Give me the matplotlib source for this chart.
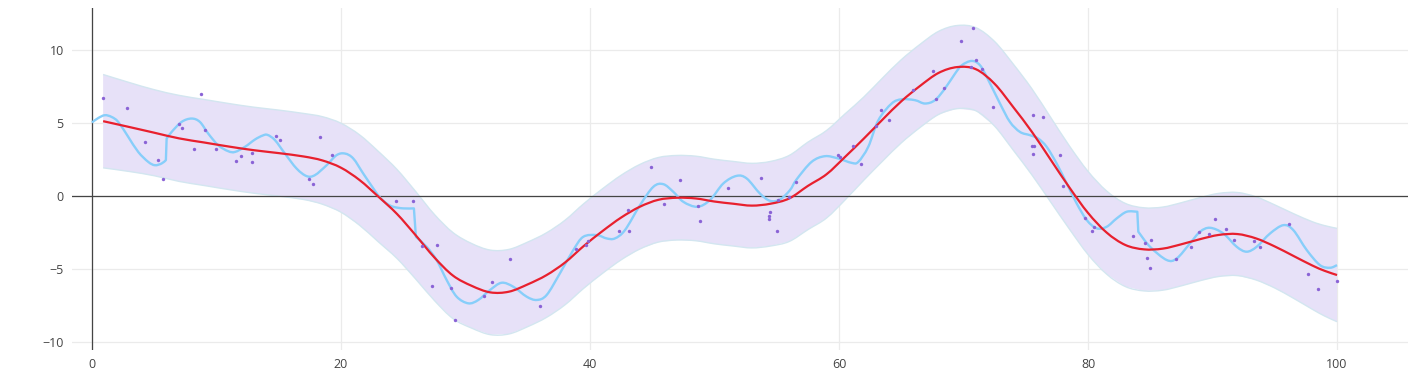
import matplotlib.pyplot as plt
from matplotlib.path import Path
from matplotlib.patches import PathPatch
from matplotlib.ticker import FixedLocator

plt.rcParams['font.family'] = ['Open Sans', 'DejaVu Sans']

# noisy observations
obs_x = [0.91, 2.84, 4.23, 5.33, 5.73, 7.02, 7.23, 8.22, 8.76, 9.1, 9.93, 11.54, 11.97, 12.85, 12.85,
         14.75, 15.13, 17.45, 17.75, 18.34, 19.25,
         24.44, 25.76, 26.53, 27.34, 27.74, 28.84, 29.16, 31.46, 32.15, 33.55, 35.96, 38.85, 39.65, 39.84, 42.33,
         43.08, 43.16, 44.87, 45.97, 47.25, 48.65, 48.86, 51.06, 53.76, 54.38, 54.38, 54.48, 55.04, 55.13, 55.98, 56.57,
         59.94, 60.08, 61.15, 61.8, 62.97, 63.37, 63.99, 65.97, 67.58, 67.78, 68.46, 69.77, 70.58, 70.79, 70.98, 71.51, 72.4,
         75.48, 75.58, 75.58, 75.69, 76.39, 77.78, 77.99, 79.76, 80.3, 80.5, 83.59, 84.6, 84.75, 84.98, 85.09,
         87.09, 88.3, 88.89, 89.68, 90.18, 91.11, 91.7, 93.31, 93.79, 96.17, 97.7, 98.49, 100.0]
obs_y = [6.76, 6.07, 3.72, 2.51, 1.16, 4.98, 4.68, 3.2, 6.99, 4.52, 3.26, 2.44, 2.74, 2.99, 2.31,
         4.13, 3.84, 1.16, 0.82, 4.04, 2.81,
         -0.34, -0.36, -3.42, -6.16, -3.38, -6.28, -8.52, -6.83, -5.89, -4.34, -7.51, -3.61, -3.38, -3.08, -2.4,
         -0.96, -2.42, 2.01, -0.57, 1.1, -0.68, -1.71, 0.57, 1.26, -1.37, -1.55, -1.12, -2.4, -0.27, -0.07, 0.96,
         2.81, 2.69, 3.47, 2.17, 4.82, 5.92, 5.23, 7.3, 8.59, 6.68, 7.44, 10.62, 8.88, 11.51, 9.32, 8.74, 6.14,
         3.47, 5.59, 2.92, 3.42, 5.4, 2.83, 0.67, -1.52, -2.41, -2.09, -2.76, -3.24, -4.26, -4.92, -3.0,
         -4.34, -3.49, -2.43, -2.57, -1.55, -2.24, -3.01, -3.1, -3.52, -1.9, -5.32, -6.38, -5.84]

# smooth fit with its confidence band
fit_x = [0.9, 3, 5, 7, 9, 11, 13, 15, 17, 18.5, 20, 21.5, 23, 24.5, 26, 27.5, 29, 30.5, 32, 33.5,
         35, 36.5, 38, 39.5, 41, 42.5, 44, 45.5, 47, 48.5, 50, 51.5, 53, 54.5, 56, 57.5, 59, 60.5, 62, 63.5,
         65, 66.5, 68, 69.5, 71, 72.5, 74, 75.5, 77, 78.5, 80, 81.5, 83, 84.5, 86, 87.5, 89, 90.5, 92, 93.5,
         95, 96.5, 98, 99, 100]
fit_mean = [5.14, 4.74, 4.35, 3.96, 3.68, 3.4, 3.15, 2.95, 2.72, 2.45, 1.95, 1.1, -0.03, -1.22, -2.68, -4.2,
            -5.45, -6.15, -6.6, -6.55, -6.05, -5.42, -4.55, -3.42, -2.4, -1.47, -0.73, -0.25, -0.11, -0.16,
            -0.37, -0.52, -0.65, -0.52, -0.16, 0.7, 1.5, 2.7, 3.95, 5.25, 6.5, 7.55, 8.45, 8.85, 8.7, 7.7,
            6.1, 4.4, 2.5, 0.6, -1.15, -2.5, -3.35, -3.65, -3.6, -3.3, -2.95, -2.66, -2.6, -2.9, -3.45, -4.1,
            -4.75, -5.12, -5.41]
fit_upper = [8.34, 7.79, 7.3, 6.91, 6.63, 6.35, 6.1, 5.9, 5.67, 5.45, 5.0, 4.2, 3.07, 1.83, 0.32, -1.25,
             -2.5, -3.25, -3.7, -3.65, -3.15, -2.52, -1.65, -0.52, 0.5, 1.43, 2.17, 2.65, 2.79, 2.74,
             2.53, 2.38, 2.25, 2.38, 2.79, 3.7, 4.5, 5.65, 6.8, 8.1, 9.35, 10.4, 11.3, 11.7, 11.55, 10.6,
             9.05, 7.35, 5.4, 3.45, 1.7, 0.35, -0.5, -0.8, -0.75, -0.45, -0.1, 0.19, 0.25, -0.05, -0.6, -1.2,
             -1.75, -2.02, -2.21]
fit_lower = [1.94, 1.69, 1.4, 1.01, 0.73, 0.45, 0.2, 0.0, -0.23, -0.55, -1.1, -2.0, -3.13, -4.27, -5.68, -7.15,
             -8.4, -9.05, -9.5, -9.45, -8.95, -8.32, -7.45, -6.32, -5.3, -4.37, -3.63, -3.15, -3.01, -3.06,
             -3.27, -3.42, -3.55, -3.42, -3.11, -2.3, -1.5, -0.25, 1.1, 2.4, 3.65, 4.7, 5.6, 6.0, 5.85, 4.8,
             3.15, 1.45, -0.4, -2.25, -4.0, -5.35, -6.2, -6.5, -6.45, -6.15, -5.8, -5.51, -5.45, -5.75, -6.3, -7.0,
             -7.75, -8.22, -8.61]

# wiggly fit
wig_x = [0.0, 0.5, 1.04, 1.58, 2.11, 2.92, 3.72, 4.52, 5.06, 5.6, 5.94, 6.0, 6.4, 7.2, 8.0, 8.67, 9.34,
         10.14, 10.95, 11.49, 12.29, 13.09, 13.7, 14.1, 14.7, 15.5, 16.44, 17.25, 17.91, 18.85, 19.65, 20.32,
         20.99, 21.79, 22.6, 23.13, 23.67, 24.2, 25.0, 25.86, 26.02, 26.88, 27.68, 28.49, 29.29, 30.23,
         31.03, 31.97, 32.9, 33.84, 34.91, 35.72, 36.52, 37.59, 38.66, 39.46, 40.54, 41.34, 42.0, 42.81,
         44.02, 45.09, 45.89, 46.69, 47.5, 48.62, 49.64, 50.71, 51.78, 52.59, 53.65, 54.46, 55.26, 56.06,
         56.6, 57.8, 58.88, 59.94, 61.02, 61.55, 62.35, 63.16, 64.23, 65.04, 66.1, 66.9, 67.71, 68.51,
         69.32, 69.86, 70.66, 71.33, 72.0, 72.93, 73.73, 74.54, 75.34, 76.0, 76.68, 77.48, 78.29, 79.09,
         79.9, 80.7, 81.5, 82.3, 83.11, 83.96, 84.04, 84.98, 86.32, 87.13, 88.19, 89.0, 89.8, 90.87, 91.94,
         92.74, 93.55, 94.62, 95.69, 96.49, 97.57, 98.63, 99.44, 100.0]
wig_y = [5.05, 5.35, 5.55, 5.43, 5.09, 4.06, 3.03, 2.35, 2.12, 2.24, 2.47, 3.95, 4.4, 5.09, 5.32, 5.09, 4.29,
         3.49, 3.08, 3.03, 3.38, 3.88, 4.15, 4.2, 3.84, 2.92, 1.89, 1.37, 1.44, 2.12, 2.81, 2.92,
         2.58, 1.55, 0.53, -0.09, -0.5, -0.73, -0.84, -0.84, -2.79, -3.47, -4.38, -5.75, -6.89, -7.35,
         -7.12, -6.44, -5.94, -6.21, -6.89, -7.12, -6.78, -5.29, -3.7, -2.79, -2.67, -2.9, -2.9, -2.33,
         -0.62, 0.64, 0.82, 0.3, -0.39, -0.73, -0.27, 0.87, 1.39, 1.21, 0.18, -0.32, -0.23, 0.41,
         1.15, 2.35, 2.74, 2.58, 2.28, 2.35, 3.38, 5.2, 6.35, 6.64, 6.58, 6.35, 6.58, 7.38,
         8.4, 8.97, 9.27, 8.97, 7.95, 6.35, 5.09, 4.4, 4.18, 3.95, 3.38, 2.24, 0.87, -0.5,
         -1.64, -2.21, -2.1, -1.53, -1.07, -1.07, -2.44, -3.47, -4.38, -4.27, -3.24, -2.44, -2.17, -2.56, -3.47,
         -3.81, -3.47, -2.56, -1.99, -2.33, -3.7, -4.73, -4.91, -4.73]

y_ticks = [-10, -5, 0, 5, 10]
x_ticks = [0, 20, 40, 60, 80, 100]


def spline_path(xs, ys, smooth=1.0, jump=10.0):
    # curved line through the points (like plotly's line_shape='spline'),
    # near-vertical steps are kept straight
    n = len(xs)
    steep = [abs(ys[i + 1] - ys[i]) > jump * (xs[i + 1] - xs[i]) for i in range(n - 1)]
    verts = [(xs[0], ys[0])]
    codes = [Path.MOVETO]
    k = smooth / 6.0
    for i in range(n - 1):
        if steep[i]:
            verts.append((xs[i + 1], ys[i + 1]))
            codes.append(Path.LINETO)
            continue
        a = i - 1 if i > 0 and not steep[i - 1] else i
        d = i + 2 if i + 2 < n and not steep[i + 1] else i + 1
        c1 = (xs[i] + k * (xs[i + 1] - xs[a]), ys[i] + k * (ys[i + 1] - ys[a]))
        c2 = (xs[i + 1] - k * (xs[d] - xs[i]), ys[i + 1] - k * (ys[d] - ys[i]))
        verts += [c1, c2, (xs[i + 1], ys[i + 1])]
        codes += [Path.CURVE4] * 3
    return Path(verts, codes)


def band_path(xs, lo, hi):
    top = spline_path(xs, hi)
    bot = spline_path(xs[::-1], lo[::-1])
    verts = list(top.vertices) + list(bot.vertices) + [(xs[0], hi[0])]
    codes = list(top.codes) + [Path.LINETO] + list(bot.codes[1:]) + [Path.CLOSEPOLY]
    return Path(verts, codes)


fig = plt.figure(figsize=(14.22, 3.77), dpi=100)
ax = fig.add_axes([72 / 1422, 27 / 377, 1336 / 1422, 342 / 377])

ax.add_patch(PathPatch(band_path(fit_x, fit_lower, fit_upper), facecolor='#e7e1f8',
                       edgecolor='none', zorder=1))
for edge in (fit_upper, fit_lower):
    ax.add_patch(PathPatch(spline_path(fit_x, edge), fill=False, edgecolor='#d3e6f0', lw=1, zorder=1.5))
ax.add_patch(PathPatch(spline_path(wig_x, wig_y), fill=False, edgecolor='#87cefa', lw=1.7,
                       zorder=3, joinstyle='round'))
ax.add_patch(PathPatch(spline_path(fit_x, fit_mean), fill=False, edgecolor='#e8202e', lw=1.6,
                       zorder=4, joinstyle='round'))
ax.scatter(obs_x, obs_y, s=6, color='#8a63d6', linewidths=0, zorder=5)

ax.axhline(0, color='#444444', lw=0.9, zorder=2)
ax.axvline(0, color='#444444', lw=0.9, zorder=2)

ax.set_xlim(-1.6, 105.7)
ax.set_ylim(-10.55, 12.9)
ax.xaxis.set_major_locator(FixedLocator(x_ticks))
ax.yaxis.set_major_locator(FixedLocator(y_ticks))
ax.set_yticklabels([f'\u2212{-t}' if t < 0 else str(t) for t in y_ticks])
ax.grid(True, color='#ebebeb', lw=0.9, zorder=0)
ax.set_axisbelow(True)
for s in ax.spines.values():
    s.set_visible(False)
ax.tick_params(length=0, labelsize=9, labelcolor='#444444', pad=6)

fig.savefig('out.png', dpi=100)
